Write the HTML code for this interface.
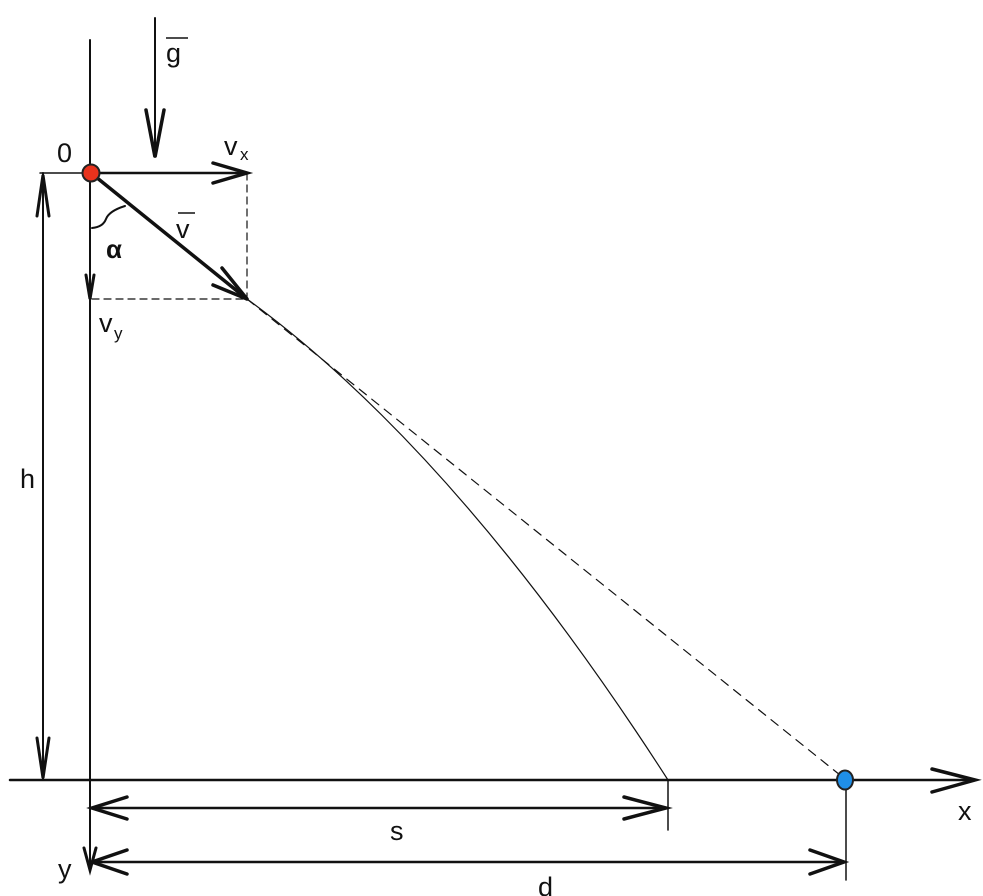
<!DOCTYPE html>
<html><head><style>
html,body{margin:0;padding:0;background:#fff;}
svg{display:block;}
text{font-family:"Liberation Sans",sans-serif;font-size:27px;fill:#111;}
</style></head><body>
<svg width="983" height="896" viewBox="0 0 983 896" xmlns="http://www.w3.org/2000/svg">
<g stroke="#111" fill="none" stroke-linecap="round">
<line x1="90" y1="40" x2="90" y2="868" stroke-width="2"/>
<line x1="10" y1="780" x2="975" y2="780" stroke-width="2.5"/>
<path d="M932 769 L975 780 L932 792" stroke-width="3.5"/>
<path d="M84 848 L90 870 L96 848" stroke-width="3"/>
<line x1="155" y1="18" x2="155" y2="157" stroke-width="2"/>
<path d="M146 110 L155 157 L164 110" stroke-width="3.5"/>
<line x1="91" y1="173" x2="247" y2="173" stroke-width="2.5"/>
<path d="M213 163 L247 173 L213 183" stroke-width="3.5"/>
<line x1="91" y1="173" x2="247" y2="299" stroke-width="3.5"/>
<path d="M222 268 L247 299 L213 285" stroke-width="3.5"/>
<path d="M86 275 L90 299 L94 275" stroke-width="3"/>
<line x1="247" y1="173" x2="247" y2="299" stroke-width="1.2" stroke-dasharray="7,5"/>
<line x1="92" y1="299" x2="247" y2="299" stroke-width="1.2" stroke-dasharray="7,5"/>
<path d="M92 228 Q103 227 106 219 Q109 211 125 206" stroke-width="2"/>
<path d="M247 299 Q457 452 668 780" stroke-width="1.2"/>
<line x1="247" y1="299" x2="840" y2="775" stroke-width="1.2" stroke-dasharray="9,7"/>
<line x1="40" y1="173" x2="90" y2="173" stroke-width="1.5"/>
<line x1="43" y1="173" x2="43" y2="780" stroke-width="2"/>
<path d="M37 216 L43 175 L49 216" stroke-width="3"/>
<path d="M37 738 L43 778 L49 738" stroke-width="3"/>
<line x1="668" y1="780" x2="668" y2="830" stroke-width="1.5"/>
<line x1="92" y1="808" x2="666" y2="808" stroke-width="2.5"/>
<path d="M127 797 L92 808 L127 819" stroke-width="3.5"/>
<path d="M624 797 L666 808 L624 819" stroke-width="3.5"/>
<line x1="846" y1="780" x2="846" y2="880" stroke-width="1.5"/>
<line x1="92" y1="862" x2="844" y2="862" stroke-width="2.5"/>
<path d="M127 850 L92 862 L127 874" stroke-width="3.5"/>
<path d="M810 850 L844 862 L810 874" stroke-width="3.5"/>
</g>
<circle cx="91" cy="173" r="8.5" fill="#e8321c" stroke="#222" stroke-width="2"/>
<ellipse cx="845" cy="780" rx="8" ry="9.5" fill="#1f8fe8" stroke="#222" stroke-width="2"/>
<text x="57" y="162">0</text>
<text x="224" y="155">v</text><text x="240" y="160" style="font-size:17px">x</text>
<text x="166" y="62">g</text><line x1="166" y1="38" x2="188" y2="38" stroke="#111" stroke-width="1.5"/>
<text x="176" y="238">v</text><line x1="178" y1="213" x2="195" y2="213" stroke="#111" stroke-width="1.5"/>
<text x="106" y="258" style="font-weight:bold;font-size:26px">α</text>
<text x="99" y="332">v</text><text x="114" y="339" style="font-size:17px">y</text>
<text x="20" y="488">h</text>
<text x="390" y="840">s</text>
<text x="958" y="820">x</text>
<text x="58" y="878">y</text>
<text x="538" y="896">d</text>
</svg>
</body></html>
